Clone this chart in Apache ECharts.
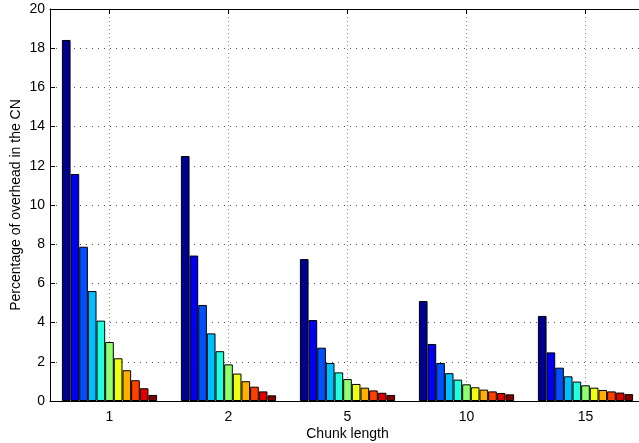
<!DOCTYPE html>
<html>
<head>
<meta charset="utf-8">
<script src="https://cdn.jsdelivr.net/npm/echarts@6/dist/echarts.min.js"></script>
<style>
html,body{margin:0;padding:0;background:#fff;}
#chart{width:639px;height:443px;}
</style>
</head>
<body>
<div id="chart"></div>
<script>
// Categories (chunk length)
var categories = ['1', '2', '5', '10', '15'];
// Y-axis ticks
var yTicks = [0, 2, 4, 6, 8, 10, 12, 14, 16, 18, 20];
// Values per chunk-length group (11 bars each)
var chunk1  = [18.42, 11.58, 7.87, 5.61, 4.10, 3.01, 2.18, 1.57, 1.06, 0.65, 0.31];
var chunk2  = [12.50, 7.42, 4.90, 3.45, 2.54, 1.87, 1.40, 1.01, 0.73, 0.49, 0.29];
var chunk5  = [7.24, 4.13, 2.72, 1.94, 1.46, 1.12, 0.87, 0.68, 0.54, 0.42, 0.31];
var chunk10 = [5.10, 2.91, 1.94, 1.42, 1.09, 0.85, 0.70, 0.58, 0.49, 0.41, 0.34];
var chunk15 = [4.34, 2.48, 1.70, 1.26, 0.99, 0.80, 0.68, 0.56, 0.49, 0.43, 0.35];
var groups = [chunk1, chunk2, chunk5, chunk10, chunk15];
// jet colormap samples for 11 series
var colors = ['#00008f', '#0000ef', '#0050ff', '#00bfff', '#20ffdf', '#8fff70',
              '#efff10', '#ffaf00', '#ff4000', '#df0000', '#800000'];

var font = '"Liberation Sans", Arial, Helvetica, sans-serif';
var series = [];
for (var i = 0; i < colors.length; i++) {
  series.push({
    type: 'bar',
    name: 'S' + (i + 1),
    xAxisIndex: 0,
    data: groups.map(function (g) { return g[i]; }),
    barGap: '0%',
    barCategoryGap: '20%',
    itemStyle: { color: colors[i], borderColor: '#000', borderWidth: 1 },
    emphasis: { disabled: true },
    animation: false
  });
}

var chart = echarts.init(document.getElementById('chart'), null, { renderer: 'canvas' });
chart.setOption({
  backgroundColor: '#fff',
  animation: false,
  grid: { left: 50, width: 595, top: 9, height: 392, containLabel: false, outerBoundsMode: 'none' },
  xAxis: [{
    type: 'category',
    data: categories,
    position: 'bottom',
    name: 'Chunk length',
    nameLocation: 'middle',
    nameGap: 26,
    nameMoveOverlap: false,
    nameTextStyle: { fontFamily: font, fontSize: 14, color: '#000' },
    axisLine: { show: true, lineStyle: { color: '#000', width: 1 } },
    axisTick: { show: true, inside: true, alignWithLabel: true, length: 5, lineStyle: { color: '#000' } },
    axisLabel: { fontFamily: font, fontSize: 14, color: '#000', margin: 9 },
    splitLine: { show: true, alignWithLabel: true, lineStyle: { color: '#888', width: 1, type: [1, 3] } }
  }, {
    type: 'category',
    data: categories,
    position: 'top',
    axisLine: { show: true, lineStyle: { color: '#000', width: 1 } },
    axisTick: { show: true, inside: true, alignWithLabel: true, length: 5, lineStyle: { color: '#000' } },
    axisLabel: { show: false },
    splitLine: { show: false }
  }],
  yAxis: {
    type: 'value',
    min: yTicks[0],
    max: yTicks[yTicks.length - 1],
    interval: 2,
    name: 'Percentage of overhead in the CN',
    nameLocation: 'middle',
    nameGap: 27,
    nameMoveOverlap: false,
    nameTextStyle: { fontFamily: font, fontSize: 14, color: '#000' },
    axisLine: { show: true, lineStyle: { color: '#000', width: 1 } },
    axisTick: { show: true, inside: true, length: 5, lineStyle: { color: '#000' } },
    axisLabel: { fontFamily: font, fontSize: 14, color: '#000', margin: 5 },
    splitLine: { show: true, lineStyle: { color: '#555', width: 1, type: [1, 5] } }
  },
  series: series
});
</script>
</body>
</html>
